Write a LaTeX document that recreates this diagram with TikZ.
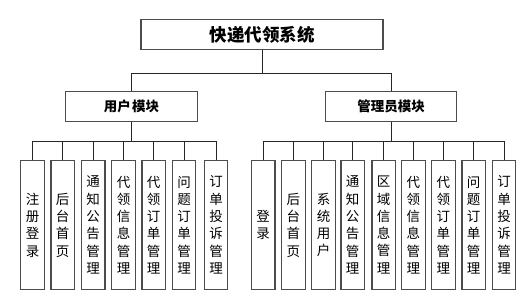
\documentclass[tikz,border=0pt]{standalone}
\usepackage{fontspec}
\newfontfamily\cjk{Noto Sans CJK SC}
\begin{document}
\begin{tikzpicture}[x=1pt,y=-1pt,
  box/.style={draw=black!70,line width=1.1pt,fill=white,inner sep=0pt,align=center},
  titlebox/.style={box,minimum width=242pt,minimum height=30.5pt,font=\cjk\bfseries\fontsize{17.5}{20}\selectfont},
  modbox/.style={box,minimum width=131.5pt,minimum height=30pt,font=\cjk\bfseries\fontsize{13.5}{16}\selectfont},
  leaf/.style={box,minimum width=23.5pt,minimum height=128.5pt,text width=20pt,font=\cjk\fontsize{13.5}{17.3}\selectfont},
  conn/.style={draw=black!85,line width=0.7pt}]
\useasboundingbox (0,0) rectangle (531,302);
\coordinate (b1) at (0,73);
\coordinate (b2) at (0,141);
\node[titlebox] (title) at (262,34.4) {快递代领系统};
\node[modbox] (user) at (131.5,106.8) {用户\hspace{1.5pt}模块};
\node[modbox] (admin) at (391,106.7) {管理员模块};
\node[leaf] (u1) at (32.5,225) {注\\册\\登\\录};
\node[leaf] (u2) at (62.7,225) {后\\台\\首\\页};
\node[leaf] (u3) at (93.2,225) {通\\知\\公\\告\\管\\理};
\node[leaf] (u4) at (123.5,225) {代\\领\\信\\息\\管\\理};
\node[leaf] (u5) at (153.7,225) {代\\领\\订\\单\\管\\理};
\node[leaf] (u6) at (184,225) {问\\题\\订\\单\\管\\理};
\node[leaf] (u7) at (216,225) {订\\单\\投\\诉\\管\\理};
\node[leaf] (a1) at (263.2,225) {登\\录};
\node[leaf] (a2) at (293.3,225) {后\\台\\首\\页};
\node[leaf] (a3) at (323.5,225) {系\\统\\用\\户};
\node[leaf] (a4) at (352.7,225) {通\\知\\公\\告\\管\\理};
\node[leaf] (a5) at (383.7,225) {区\\域\\信\\息\\管\\理};
\node[leaf] (a6) at (413.3,225) {代\\领\\信\\息\\管\\理};
\node[leaf] (a7) at (443.3,225) {代\\领\\订\\单\\管\\理};
\node[leaf] (a8) at (473.7,225) {问\\题\\订\\单\\管\\理};
\node[leaf] (a9) at (504,225) {订\\单\\投\\诉\\管\\理};
\draw[conn] (title.south) -- (title.south |- b1) -| (user.north);
\draw[conn] (title.south |- b1) -| (admin.north);
\draw[conn] (user.south) -- (user.south |- b2);
\foreach \n in {u1,u2,u3,u4,u5,u6,u7}
  \draw[conn] (user.south |- b2) -| (\n.north);
\draw[conn] (admin.south) -- (admin.south |- b2);
\foreach \n in {a1,a2,a3,a4,a5,a6,a7,a8,a9}
  \draw[conn] (admin.south |- b2) -| (\n.north);
\end{tikzpicture}
\end{document}
